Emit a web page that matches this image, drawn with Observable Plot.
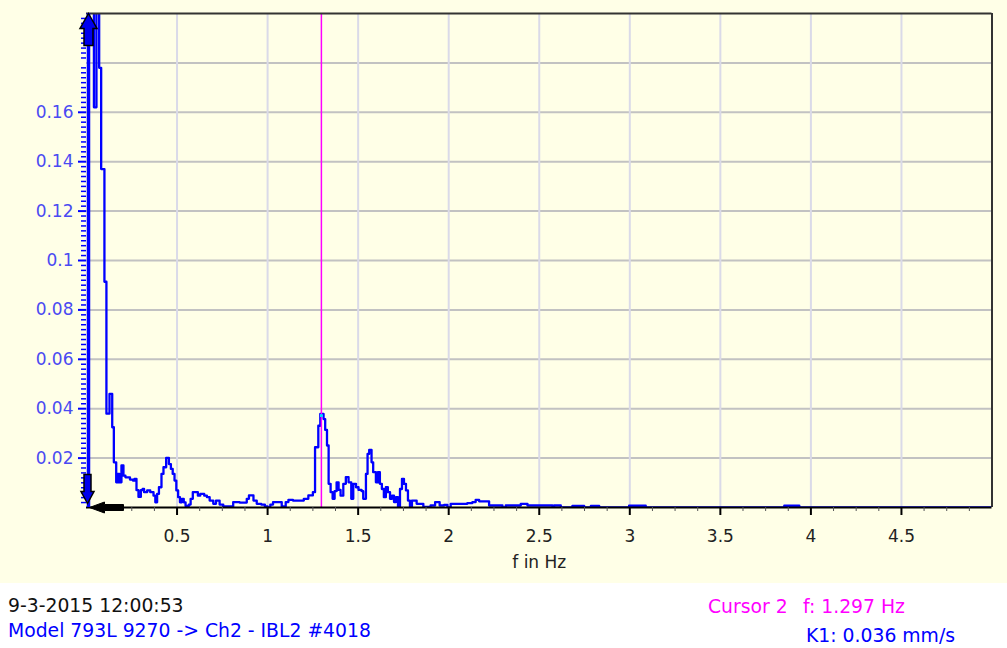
<!DOCTYPE html>
<html><head><meta charset="utf-8">
<script src="https://cdn.jsdelivr.net/npm/d3@7"></script>
<script src="https://cdn.jsdelivr.net/npm/@observablehq/plot@0.6"></script>
<style>
body{margin:0;background:#fff;font-family:"DejaVu Sans",sans-serif;}
#wrap{position:relative;width:1007px;height:648px;overflow:hidden;background:#fff;}
#chart svg{display:block;}
#foot{display:block;}
</style></head><body>
<div id="wrap"><div id="chart"></div>
<svg id="foot" width="1007" height="65" font-family="DejaVu Sans" font-size="18.8">
  <text x="8" y="29" fill="#111">9-3-2015 12:00:53</text>
  <text x="8" y="54" fill="#0000ff">Model 793L 9270 -&gt; Ch2 - IBL2 #4018</text>
  <text x="708" y="30" fill="#ff00ff">Cursor 2</text>
  <text x="803" y="30" fill="#ff00ff">f: 1.297 Hz</text>
  <text x="806" y="59" fill="#0000ff">K1: 0.036 mm/s</text>
</svg>
</div>
<script>
// Spectrum (step-after): frequency in Hz where each step begins, amplitude in mm/s
const freq = [0.000,0.041,0.055,0.070,0.081,0.099,0.110,0.127,0.142,0.151,0.164,0.173,0.182,0.193,0.204,0.215,0.240,0.256,0.265,0.276,0.287,0.300,0.310,0.318,0.335,0.352,0.370,0.380,0.390,0.400,0.414,0.425,0.440,0.455,0.466,0.476,0.486,0.496,0.506,0.516,0.527,0.537,0.547,0.565,0.575,0.587,0.615,0.628,0.650,0.665,0.680,0.700,0.715,0.735,0.755,0.810,0.845,0.885,0.897,0.922,0.940,0.965,0.985,1.000,1.015,1.030,1.078,1.100,1.115,1.140,1.180,1.200,1.225,1.250,1.262,1.280,1.291,1.309,1.318,1.328,1.337,1.348,1.359,1.370,1.381,1.392,1.403,1.418,1.432,1.447,1.462,1.473,1.488,1.502,1.519,1.528,1.543,1.552,1.561,1.574,1.583,1.598,1.609,1.620,1.631,1.642,1.653,1.664,1.676,1.687,1.698,1.709,1.720,1.731,1.742,1.753,1.764,1.775,1.786,1.797,1.823,1.860,1.900,1.925,1.950,1.975,1.993,2.011,2.103,2.131,2.149,2.168,2.195,2.223,2.297,2.315,2.398,2.435,2.573,2.582,2.619,2.683,2.748,2.785,2.831,2.996,3.088,3.853,3.936,5.000];
const amp = [0.25,0.162,0.25,0.178,0.137,0.0914,0.038,0.046,0.0325,0.0183,0.0102,0.0136,0.0102,0.0170,0.0129,0.0122,0.0113,0.0109,0.0116,0.0070,0.0043,0.0070,0.0075,0.0062,0.0069,0.0062,0.0048,0.0021,0.0055,0.0082,0.0136,0.0163,0.0201,0.0176,0.0156,0.0136,0.0109,0.0069,0.0042,0.0021,0.0035,0.0021,0.0006,0.0012,0.0035,0.0062,0.0048,0.0055,0.0048,0.0042,0.0028,0.0015,0.0028,0.0012,0.0004,0.0022,0.0020,0.0035,0.0049,0.0028,0.0015,0.0012,0.0004,0.0,0.0012,0.0022,0.0004,0.0022,0.0031,0.0028,0.0028,0.0035,0.0049,0.0062,0.0244,0.0331,0.0379,0.0358,0.0314,0.0251,0.0096,0.0062,0.0035,0.0066,0.0102,0.0071,0.0048,0.0096,0.0123,0.0102,0.0035,0.0096,0.0082,0.0071,0.0066,0.0035,0.0136,0.0217,0.0233,0.0183,0.0143,0.0102,0.0143,0.0096,0.0075,0.0042,0.0082,0.0062,0.0035,0.0048,0.0022,0.0042,0.0002,0.0075,0.0116,0.0096,0.0069,0.0028,0.0002,0.0028,0.0015,0.0002,0.0008,0.0022,0.0008,0.0011,0.0,0.0015,0.0018,0.0022,0.0031,0.0025,0.0025,0.0008,0.0,0.0008,0.0015,0.0008,0.0,0.0008,0.0,0.0006,0.0,0.0006,0.0,0.0007,0.0,0.0007,0.0,0.0];

const xTickValues = [0.5,1,1.5,2,2.5,3,3.5,4,4.5];
const xTickLabels = ["0.5","1","1.5","2","2.5","3","3.5","4","4.5"];
const yTickValues = [0.02,0.04,0.06,0.08,0.1,0.12,0.14,0.16];
const yTickLabels = ["0.02","0.04","0.06","0.08","0.1","0.12","0.14","0.16"];
const yGridValues = [0.02,0.04,0.06,0.08,0.1,0.12,0.14,0.16,0.18];
const cursorFreq = 1.297;
const cursorAmp = 0.036;
const xLabel = "f in Hz";

const spectrum = freq.map((f, i) => ({f, a: amp[i]}));
const xMinor = d3.range(1, 40).map(i => i * 0.125).filter((v, i) => (i + 1) % 4 !== 0);
const yMinor = d3.range(1, 100).map(i => i * 0.002).filter((v, i) => (i + 1) % 10 !== 0);
const xTicks = xTickValues.map((v, i) => ({v, label: xTickLabels[i]}));
const yTicks = yTickValues.map((v, i) => ({v, label: yTickLabels[i]}));

function arrowSymbol(len, headLen, headW, stemW) {
  return {draw(ctx) {
    ctx.moveTo(0, 0);
    ctx.lineTo(headW / 2, headLen);
    ctx.lineTo(stemW / 2, headLen);
    ctx.lineTo(stemW / 2, len);
    ctx.lineTo(-stemW / 2, len);
    ctx.lineTo(-stemW / 2, headLen);
    ctx.lineTo(-headW / 2, headLen);
    ctx.closePath();
  }};
}

const chart = Plot.plot({
  width: 1007,
  height: 583,
  marginLeft: 86,
  marginRight: 15.5,
  marginTop: 13,
  marginBottom: 76,
  x: {domain: [0, 5], axis: null},
  y: {domain: [0, 0.2], axis: null},
  style: {background: "#FFFFE7", fontFamily: "DejaVu Sans", fontSize: "17px", overflow: "visible"},
  marks: [
    Plot.ruleY(yGridValues, {stroke: "#c2c2c2", strokeWidth: 2}),
    Plot.ruleX(xTickValues, {stroke: "#dadae8", strokeWidth: 2}),
    Plot.line(spectrum, {x: "f", y: "a", curve: "step-after", stroke: "#0000ff", strokeWidth: 2.3, clip: true}),
    Plot.ruleX([cursorFreq], {stroke: "#ff00ff", strokeWidth: 1.5}),
    Plot.dot([{f: cursorFreq, a: cursorAmp}], {x: "f", y: "a", symbol: "square", r: 1.6, fill: "#00e0ff", dy: -3}),
    Plot.ruleY([0.2], {stroke: "#333", strokeWidth: 2}),
    Plot.ruleX([5], {stroke: "#333", strokeWidth: 2}),
    // x axis
    Plot.ruleY([0], {stroke: "#000", strokeWidth: 2}),
    Plot.ruleX(xTickValues, {y1: 0, y2: 0, insetBottom: -8, stroke: "#000", strokeWidth: 2}),
    Plot.ruleX(xMinor, {y1: 0, y2: 0, insetBottom: -4, stroke: "#555", strokeWidth: 1}),
    Plot.text(xTicks, {x: "v", y: 0, dy: 29, text: "label", fill: "#222", fontSize: 17}),
    Plot.text([xLabel], {x: 2.5, y: 0, dy: 55, text: d => d, fill: "#222", fontSize: 17}),
    // y axis
    Plot.ruleX([0], {stroke: "#0000ff", strokeWidth: 3.5, dx: 2}),
    Plot.ruleY(yTickValues, {x1: 0, x2: 0, insetLeft: -8, stroke: "#0000ff", strokeWidth: 2}),
    Plot.ruleY(yMinor, {x1: 0, x2: 0, insetLeft: -5, stroke: "#0000ff", strokeWidth: 1.5}),
    Plot.text(yTicks, {x: 0, y: "v", dx: -13, text: "label", textAnchor: "end", fill: "#4a4af2", fontSize: 17}),
    // cursor/scroll arrows at axis ends
    Plot.dot([{f: 0, a: 0.2}], {x: "f", y: "a", dx: 2, symbol: arrowSymbol(32, 15, 17, 9), fill: "#0000ee", stroke: "#000", strokeWidth: 1.5}),
    Plot.dot([{f: 0, a: 0}], {x: "f", y: "a", dx: 1, dy: -4, rotate: 180, symbol: arrowSymbol(29, 12, 13, 7), fill: "#0000ee", stroke: "#000", strokeWidth: 1.5}),
    Plot.dot([{f: 0, a: 0}], {x: "f", y: "a", dx: 3, rotate: -90, symbol: arrowSymbol(34, 15, 11, 6), fill: "#000", stroke: "#000", strokeWidth: 1})
  ]
});
document.getElementById("chart").appendChild(chart);
</script>
</body></html>
